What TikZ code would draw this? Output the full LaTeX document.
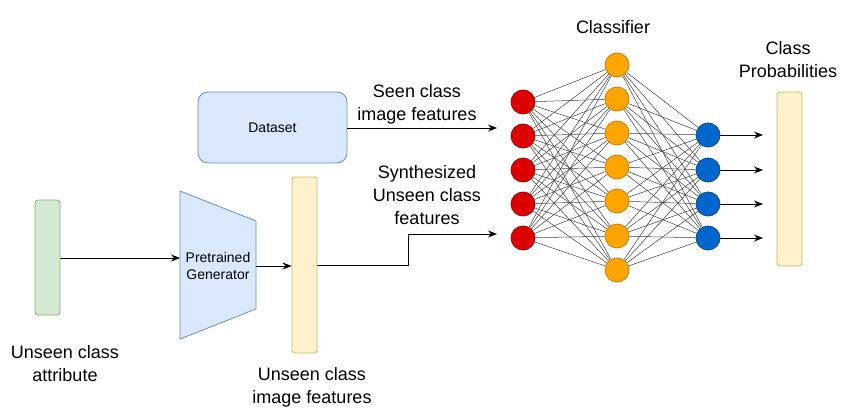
\documentclass[tikz,border=0pt]{standalone}
\usepackage{fontspec}
\setmainfont{Liberation Sans}
\usetikzlibrary{arrows.meta}
\definecolor{greenfill}{HTML}{D5E8D4}\definecolor{greenline}{HTML}{82B366}
\definecolor{bluefill}{HTML}{DAE8FC}\definecolor{blueline}{HTML}{6C8EBF}
\definecolor{yellowfill}{HTML}{FFF2CC}\definecolor{yellowline}{HTML}{D6B656}
\definecolor{redfill}{HTML}{DD0000}\definecolor{redline}{HTML}{A00000}
\definecolor{orangefill}{HTML}{FFA500}\definecolor{orangeline}{HTML}{C98000}
\definecolor{outfill}{HTML}{0066CC}\definecolor{outline}{HTML}{004C99}
\begin{document}
\begin{tikzpicture}[x=1pt,y=-1pt,font=\fontsize{18}{23}\selectfont,
 bar/.style={draw,rounded corners=3pt,minimum width=25pt,line width=0.8pt},
 neuron/.style={circle,draw,minimum size=24pt,inner sep=0pt,line width=0.8pt},
 link/.style={black!75,line width=0.5pt},
 arr/.style={-{Stealth[length=9pt,width=7pt]},line width=0.8pt},
 lab/.style={align=center,inner sep=0pt}]
\useasboundingbox (0,0) rectangle (854,420);
\node[bar,fill=greenfill,draw=greenline,minimum height=115pt] (attr) at (47.5,257.5) {};
\draw[fill=bluefill,draw=blueline,line width=0.8pt] (180,191)--(256,221)--(256,309)--(180,339)--cycle;
\node[lab,font=\fontsize{14}{17.5}\selectfont] (gen) at (218,266) {Pretrained\\Generator};
\coordinate (genin) at (180,258);\coordinate (genout) at (256,266);
\node[bar,fill=yellowfill,draw=yellowline,minimum height=176pt] (feat) at (304.5,265) {};
\node[draw=blueline,fill=bluefill,rounded corners=10pt,minimum width=149pt,minimum height=71pt,line width=0.8pt,font=\fontsize{14}{17}\selectfont] (data) at (272.5,127.5) {Dataset};
\node[bar,fill=yellowfill,draw=yellowline,minimum height=174pt] (prob) at (789.5,179) {};
\foreach \i/\y in {1/102,2/136,3/170,4/204,5/238}{
 \node[neuron,fill=redfill,draw=redline] (in\i) at (523,\y) {};
}
\foreach \i/\y in {1/65,2/99,3/133,4/167,5/201,6/236,7/270}{
 \node[neuron,fill=orangefill,draw=orangeline] (hid\i) at (617,\y) {};
}
\foreach \i/\y in {1/135,2/170,3/204,4/238}{
 \node[neuron,fill=outfill,draw=outline] (out\i) at (708,\y) {};
 \coordinate (prob\i) at (763,\y);
 \draw[arr] (out\i) -- (prob\i);
}
\foreach \i in {1,...,5}{\foreach \j in {1,...,7}{\draw[link] (in\i) -- (hid\j);}}
\foreach \j in {1,...,7}{\foreach \k in {1,...,4}{\draw[link] (hid\j) -- (out\k);}}
\coordinate (seen) at (497,128);\coordinate (synth) at (497,234);\coordinate (bend) at (408,234);
\draw[arr] (attr.east|-genin) -- (genin);
\draw[arr] (genout) -- (feat.west|-genout);
\draw[arr] (data.east|-seen) -- (seen);
\draw[arr] (feat.east) -| (bend) -- (synth);
\node[lab] (attrlab) at (65,363.5) {Unseen class\\attribute};
\node[lab] (featlab) at (312,387) {Unseen class\\image features};
\node[lab] (seenlab) at (417,104) {Seen class\\image features};
\node[lab] (synthlab) at (427,195) {Synthesized\\Unseen class\\features};
\node[lab] (problab) at (788,60) {Class\\Probabilities};
\node[lab] (clslab) at (613,27) {Classifier};
\end{tikzpicture}
\end{document}
